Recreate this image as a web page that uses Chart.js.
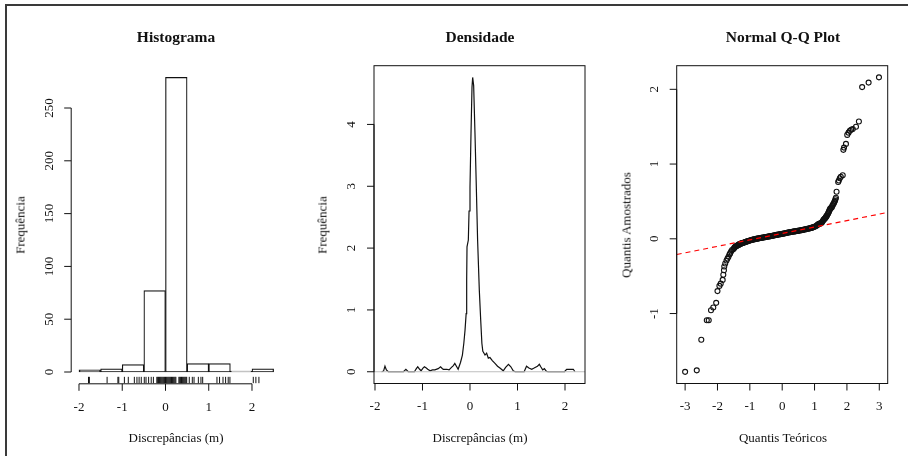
<!DOCTYPE html>
<html><head><meta charset="utf-8">
<script src="https://cdn.jsdelivr.net/npm/chart.js@4.4.1/dist/chart.umd.min.js"></script>
<style>
html,body{margin:0;padding:0;background:#fff;width:908px;height:456px;overflow:hidden}
#wrap{position:relative;width:908px;height:456px;font-family:"Liberation Serif","Times New Roman",serif;color:#111}
canvas{position:absolute;left:0;top:0}
.t{position:absolute;white-space:nowrap;transform:translate(-50%,-50%);line-height:1}
.main{font-weight:bold;font-size:15.5px}
.lab{font-size:13px}
.rot{transform:translate(-50%,-50%) rotate(-90deg)}
#frame{position:absolute;left:5px;top:4px;width:940px;height:480px;border-left:2px solid #3a3a3a;border-top:2px solid #3a3a3a}
</style></head><body>
<div id="wrap">
<div id="frame"></div>
<canvas id="c1" width="908" height="456"></canvas>
<canvas id="c2" width="908" height="456"></canvas>
<canvas id="c3" width="908" height="456"></canvas>
<div class="t main" style="left:176px;top:37px">Histograma</div>
<div class="t main" style="left:480px;top:37px">Densidade</div>
<div class="t main" style="left:783px;top:37px">Normal Q-Q Plot</div>
<div class="t lab" style="left:176px;top:437px">Discrepâncias (m)</div>
<div class="t lab" style="left:480px;top:437px">Discrepâncias (m)</div>
<div class="t lab" style="left:783px;top:437px">Quantis Teóricos</div>
<div class="t lab rot" style="left:20px;top:225px">Frequência</div>
<div class="t lab rot" style="left:322px;top:225px">Frequência</div>
<div class="t lab rot" style="left:626px;top:225px">Quantis Amostrados</div>
</div>
<script>
// ---------- data ----------
const histBreaks = [-2, -1.5, -1, -0.5, 0, 0.5, 1, 1.5, 2, 2.5];
const histCounts = [2, 3, 7, 77, 279, 8, 8, 1, 3];
const rugValues = [-1.78, -1.76, -1.35, -1.10, -1.08, -0.95, -0.86, -0.72, -0.66, -0.61, -0.56, -0.49, -0.45, -0.39, -0.33, -0.28,
  -0.20, -0.18, -0.16, -0.14, -0.12, -0.10, -0.08, -0.06, -0.04, -0.02, 0.00, 0.02, 0.04, 0.06, 0.08, 0.10, 0.12, 0.14, 0.16,
  0.18, 0.20, 0.22, 0.24, 0.31, 0.33, 0.35, 0.37, 0.39, 0.41, 0.43, 0.45, 0.47, 0.49, 0.55, 0.62, 0.66, 0.76, 0.82, 0.86,
  1.19, 1.25, 1.33, 1.39, 1.45, 1.49, 2.03, 2.09, 2.16];
const histXTicks = [-2, -1, 0, 1, 2];
const histYTicks = [0, 50, 100, 150, 200, 250];

const densX = [-1.86, -1.82, -1.79, -1.76, -1.72, -1.40, -1.35, -1.30, -1.17, -1.13, -1.10, -1.06, -1.03, -0.99, -0.96, -0.92,
  -0.89, -0.84, -0.79, -0.74, -0.67, -0.62, -0.58, -0.56, -0.49, -0.44, -0.39, -0.35, -0.32, -0.28, -0.25, -0.20, -0.16, -0.13,
  -0.105, -0.081, -0.07, -0.063, -0.035, -0.02, 0.0, 0.021, 0.042, 0.056, 0.077, 0.105, 0.133, 0.16, 0.196, 0.225, 0.25, 0.27,
  0.28, 0.316, 0.35, 0.386, 0.42, 0.47, 0.526, 0.58, 0.63, 0.70, 0.75, 0.81, 0.86, 0.91, 0.95, 1.14, 1.19, 1.24, 1.30, 1.35,
  1.42, 1.46, 1.49, 1.53, 1.565, 1.61, 1.65, 1.99, 2.035, 2.175, 2.21];
const densY = [0, 0.01, 0.09, 0.03, 0.0, 0.0, 0.04, 0.0, 0.0, 0.05, 0.08, 0.04, 0.016, 0.06, 0.08, 0.06,
  0.04, 0.015, 0.03, 0.03, 0.05, 0.08, 0.05, 0.04, 0.04, 0.03, 0.07, 0.10, 0.135, 0.08, 0.04, 0.15, 0.27, 0.46,
  0.67, 0.94, 1.48, 2.02, 2.13, 2.6, 2.99, 3.85, 4.6, 4.76, 4.63, 3.85, 2.99, 2.13, 1.32, 0.84, 0.46, 0.33,
  0.32, 0.27, 0.30, 0.22, 0.23, 0.18, 0.135, 0.09, 0.06, 0.015, 0.07, 0.12, 0.08, 0.015, 0.0, 0.0, 0.09, 0.06, 0.04, 0.06,
  0.09, 0.12, 0.08, 0.03, 0.05, 0.005, 0.0, 0.0, 0.04, 0.04, 0.0];
const densXTicks = [-2, -1, 0, 1, 2];
const densYTicks = [0, 1, 2, 3, 4];

const qqTheoretical = [
  -3.00, -2.64, -2.50, -2.33, -2.27, -2.20, -2.13, -2.04, -2.00, -1.94, -1.90, -1.84, -1.82, -1.80, -1.79,
  -1.76, -1.72, -1.69, -1.66, -1.63, -1.61, -1.58, -1.55, -1.51, -1.49, -1.47, -1.45, -1.43, -1.41, -1.39, -1.37,
  -1.355, -1.34, -1.32, -1.30, -1.28, -1.26, -1.24, -1.22, -1.20,
  -1.175, -1.15, -1.125, -1.10, -1.075, -1.05, -1.025, -1.00, -0.975, -0.95, -0.925, -0.90, -0.875, -0.85, -0.825, -0.80,
  -0.775, -0.75, -0.725, -0.70, -0.675, -0.65, -0.625, -0.60, -0.575, -0.55, -0.525, -0.50, -0.475, -0.45, -0.425, -0.40,
  -0.375, -0.35, -0.325, -0.30, -0.275, -0.25, -0.225, -0.20, -0.175, -0.15, -0.125, -0.10, -0.075, -0.05, -0.025, 0.00,
  0.025, 0.05, 0.075, 0.10, 0.125, 0.15, 0.175, 0.20, 0.225, 0.25, 0.275, 0.30, 0.325, 0.35, 0.375, 0.40, 0.425, 0.45,
  0.475, 0.50, 0.525, 0.55, 0.575, 0.60, 0.625, 0.65, 0.675, 0.70, 0.725, 0.75, 0.775, 0.80, 0.825, 0.85, 0.875, 0.90,
  0.925, 0.95, 0.975, 1.00, 1.03, 1.06, 1.08, 1.10, 1.12,
  1.14, 1.16, 1.18, 1.20, 1.22, 1.24, 1.26, 1.275, 1.29, 1.305, 1.32, 1.335, 1.35, 1.365, 1.38, 1.40, 1.42, 1.435, 1.45,
  1.465, 1.48, 1.50, 1.53, 1.545, 1.56, 1.58, 1.60, 1.615, 1.63, 1.645, 1.66, 1.68, 1.73, 1.75, 1.78,
  1.81, 1.87, 1.89, 1.91, 1.97, 2.01, 2.05, 2.09, 2.13, 2.18, 2.28, 2.37, 2.47, 2.67, 2.99];
const qqSample = [
  -1.78, -1.76, -1.35, -1.09, -1.09, -0.955, -0.92, -0.857, -0.70, -0.63, -0.60, -0.55, -0.48, -0.42, -0.37,
  -0.33, -0.29, -0.265, -0.24, -0.21, -0.195, -0.17, -0.15, -0.14, -0.128, -0.115, -0.108, -0.10, -0.095, -0.09, -0.087,
  -0.085, -0.078, -0.07, -0.068, -0.065, -0.062, -0.058, -0.056, -0.053,
  -0.049, -0.045, -0.041, -0.038, -0.034, -0.03, -0.026, -0.022, -0.019, -0.016, -0.013, -0.011, -0.008, -0.006, -0.003, -0.001,
  0.002, 0.004, 0.006, 0.008, 0.010, 0.012, 0.014, 0.016, 0.018, 0.02, 0.022, 0.024, 0.026, 0.028, 0.03, 0.032,
  0.034, 0.036, 0.038, 0.04, 0.043, 0.045, 0.048, 0.05, 0.052, 0.054, 0.056, 0.058, 0.06, 0.062, 0.064, 0.066,
  0.068, 0.07, 0.073, 0.075, 0.078, 0.08, 0.083, 0.085, 0.087, 0.089, 0.091, 0.093, 0.095, 0.097, 0.099, 0.10, 0.102, 0.104,
  0.106, 0.108, 0.11, 0.112, 0.114, 0.116, 0.118, 0.12, 0.123, 0.125, 0.128, 0.13, 0.133, 0.135, 0.138, 0.14, 0.143, 0.146,
  0.149, 0.153, 0.157, 0.162, 0.168, 0.175, 0.182, 0.19, 0.195,
  0.20, 0.203, 0.205, 0.21, 0.215, 0.228, 0.24, 0.25, 0.26, 0.265, 0.27, 0.28, 0.29, 0.30, 0.31, 0.325, 0.34, 0.355, 0.37,
  0.385, 0.40, 0.41, 0.42, 0.435, 0.45, 0.465, 0.48, 0.495, 0.51, 0.53, 0.55, 0.63, 0.76, 0.78, 0.81,
  0.83, 0.85, 1.19, 1.22, 1.27, 1.39, 1.42, 1.446, 1.46, 1.47, 1.50, 1.57, 2.03, 2.09, 2.16];
const qqLineX = [-3.26, 3.26];
const qqLineY = [-0.21, 0.353];
const qqXTicks = [-3, -2, -1, 0, 1, 2, 3];
const qqYTicks = [-1, 0, 1, 2];

// ---------- R-style axes plugin ----------
const rAxes = {
  id: 'rAxes',
  afterDraw(chart, args, o) {
    const ctx = chart.ctx, a = chart.chartArea, xs = chart.scales.x, ys = chart.scales.y;
    ctx.save();
    ctx.strokeStyle = '#111'; ctx.lineWidth = 1; ctx.fillStyle = '#111';
    if (o.box) ctx.strokeRect(a.left, a.top, a.right - a.left, a.bottom - a.top);
    const yb = a.bottom, xl = a.left;
    const xp = o.xTicks.map(v => xs.getPixelForValue(v));
    const yp = o.yTicks.map(v => ys.getPixelForValue(v));
    ctx.beginPath();
    ctx.moveTo(xp[0], yb); ctx.lineTo(xp[xp.length - 1], yb);
    xp.forEach(p => { ctx.moveTo(p, yb); ctx.lineTo(p, yb + 7); });
    ctx.moveTo(xl, yp[0]); ctx.lineTo(xl, yp[yp.length - 1]);
    yp.forEach(p => { ctx.moveTo(xl, p); ctx.lineTo(xl - 7, p); });
    ctx.stroke();
    ctx.font = '13px "Liberation Serif", serif';
    ctx.textAlign = 'center'; ctx.textBaseline = 'middle';
    o.xTicks.forEach((v, i) => ctx.fillText(String(v), xp[i], yb + 23.5));
    o.yTicks.forEach((v, i) => {
      ctx.save(); ctx.translate(xl - 22, yp[i]); ctx.rotate(-Math.PI / 2);
      ctx.fillText(String(v), 0, 0); ctx.restore();
    });
    ctx.restore();
  }
};

function baseOptions(pad, xr, yr, axes) {
  return {
    responsive: false, animation: false, devicePixelRatio: 1, events: [],
    layout: { padding: pad },
    plugins: { legend: { display: false }, tooltip: { enabled: false }, rAxes: axes },
    scales: {
      x: { type: 'linear', display: false, offset: false, min: xr[0], max: xr[1], grid: { offset: false } },
      y: { type: 'linear', display: false, min: yr[0], max: yr[1] }
    }
  };
}

// ---------- Histogram ----------
const RUG_Y = -7.6;
new Chart(document.getElementById('c1'), {
  type: 'bar',
  data: {
    datasets: [
      {
        type: 'bar',
        data: histCounts.map((c, i) => ({ x: (histBreaks[i] + histBreaks[i + 1]) / 2, y: c })),
        backgroundColor: '#ffffff', borderColor: '#111', borderWidth: 1.2, borderSkipped: false,
        barPercentage: 1, categoryPercentage: 1, order: 2
      },
      {
        type: 'scatter',
        data: rugValues.map(v => ({ x: v, y: RUG_Y })),
        pointStyle: 'line', rotation: 90, pointRadius: 3.2, borderColor: '#111', borderWidth: 1, order: 1
      }
    ]
  },
  options: baseOptions({ left: 71.2, right: 908 - 281.4, top: 65.6, bottom: 456 - 383.8 },
    [-2.18, 2.68], [-11.16, 290.16],
    { box: false, xTicks: histXTicks, yTicks: histYTicks }),
  plugins: [rAxes]
});

// ---------- Density ----------
const DENS_XR = [-2.021, 2.421];
new Chart(document.getElementById('c2'), {
  type: 'line',
  data: {
    datasets: [
      {
        data: DENS_XR.map(x => ({ x: x, y: 0 })),
        borderColor: '#bebebe', borderWidth: 1, pointRadius: 0, order: 1
      },
      {
        data: densX.map((x, i) => ({ x: x, y: densY[i] })),
        borderColor: '#111', borderWidth: 1.2, pointRadius: 0, tension: 0, order: 2
      }
    ]
  },
  options: baseOptions({ left: 374, right: 908 - 585, top: 65.7, bottom: 456 - 383.5 },
    DENS_XR, [-0.19, 4.95],
    { box: true, xTicks: densXTicks, yTicks: densYTicks }),
  plugins: [rAxes]
});

// ---------- Normal Q-Q ----------
new Chart(document.getElementById('c3'), {
  type: 'scatter',
  data: {
    datasets: [
      {
        type: 'line',
        data: qqLineX.map((x, i) => ({ x: x, y: qqLineY[i] })),
        borderColor: '#ff0000', borderWidth: 1.2, borderDash: [5, 4], pointRadius: 0, order: 1
      },
      {
        data: qqTheoretical.map((x, i) => ({ x: x, y: qqSample[i] })),
        pointStyle: 'circle', pointRadius: 2.5, borderWidth: 1.1, borderColor: '#111',
        backgroundColor: 'rgba(0,0,0,0)', order: 2
      }
    ]
  },
  options: baseOptions({ left: 676.7, right: 908 - 887.7, top: 65.7, bottom: 456 - 383.5 },
    [-3.26, 3.26], [-1.936, 2.316],
    { box: true, xTicks: qqXTicks, yTicks: qqYTicks }),
  plugins: [rAxes]
});
</script>
</body></html>
